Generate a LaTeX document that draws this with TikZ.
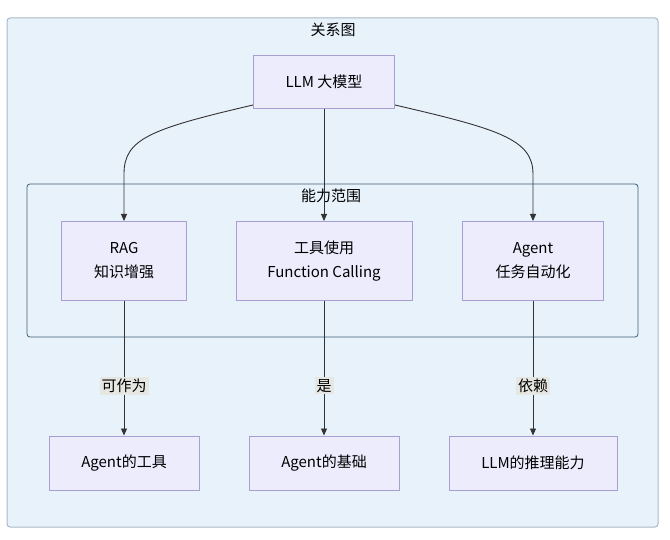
\documentclass[tikz,border=0pt]{standalone}
\usepackage{fontspec}
\setmainfont{Noto Sans CJK SC}
\usetikzlibrary{arrows.meta}
\definecolor{panelfill}{HTML}{E8F2FB}
\definecolor{panelline}{HTML}{A9B8C8}
\definecolor{groupline}{HTML}{3F5F78}
\definecolor{boxfill}{HTML}{ECECFC}
\definecolor{boxline}{HTML}{A89FD0}
\definecolor{edgegray}{HTML}{333333}
\definecolor{labelfill}{HTML}{E6E6E2}
\begin{document}
\begin{tikzpicture}[x=1pt, y=1pt,
        font=\fontsize{15}{24}\selectfont,
        panel/.style={draw=panelline, fill=panelfill, line width=1pt, rounded corners=3pt},
        group/.style={draw=groupline, fill=panelfill, line width=0.8pt, rounded corners=3pt},
        box/.style={draw=boxline, fill=boxfill, line width=1pt, align=center, inner sep=0pt},
        edge/.style={draw=edgegray, line width=0.9pt, -{Triangle[length=7pt, width=6pt]}},
        tag/.style={fill=labelfill, inner sep=2pt}]
        \useasboundingbox (0, 0) rectangle (670, 539);

        \draw[panel] (7, 12) rectangle (658, 521);
        \node (title) at (333, 509) {关系图};

        \draw[group] (27, 202) rectangle (638, 355);
        \node (scope) at (331, 343) {能力范围};

        \node[box, minimum width=141, minimum height=53] (llm) at (324, 457) {LLM 大模型};

        \node[box, minimum width=125, minimum height=79] (rag) at (124, 278) {RAG\\知识增强};
        \node[box, minimum width=176, minimum height=79] (tool) at (324, 278) {工具使用\\Function Calling};
        \node[box, minimum width=141, minimum height=79] (agent) at (533, 278) {Agent\\任务自动化};

        \node[box, minimum width=150, minimum height=54] (agtool) at (124, 76) {Agent的工具};
        \node[box, minimum width=150, minimum height=54] (agbase) at (324, 76) {Agent的基础};
        \node[box, minimum width=168, minimum height=54] (reason) at (533, 76) {LLM的推理能力};

        \draw[edge] ([yshift=4pt]llm.south west) .. controls (150, 410) and (124, 400) .. (124, 365) -- (rag.north);
        \draw[edge] (llm.south) -- (tool.north);
        \draw[edge] ([yshift=4pt]llm.south east) .. controls (498, 410) and (533, 400) .. (533, 365) -- (agent.north);

        \draw[edge] (rag.south) -- node[tag, pos=0.63] {可作为} (agtool.north);
        \draw[edge] (tool.south) -- node[tag, pos=0.63] {是} (agbase.north);
        \draw[edge] (agent.south) -- node[tag, pos=0.63] {依赖} (reason.north);
    \end{tikzpicture}
\end{document}
